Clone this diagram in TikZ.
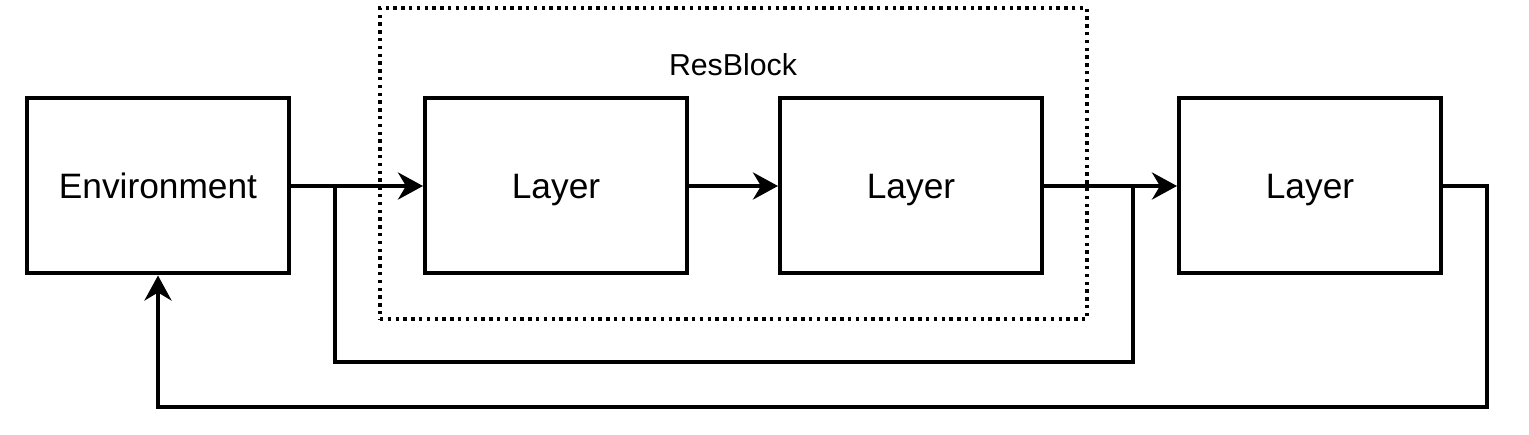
\documentclass[tikz,border=0pt]{standalone}
\usepackage{fontspec}
\setmainfont{Liberation Sans}
\usetikzlibrary{arrows.meta}
\begin{document}
\begin{tikzpicture}[x=1pt,y=-1pt,
  blockbox/.style={draw=black,line width=4pt,minimum width=262pt,minimum height=175pt,
    inner sep=0pt,font=\fontsize{35.3}{40}\selectfont,text depth=0pt},
  wire/.style={line width=4pt,draw=black},
  arr/.style={wire,-{Stealth[length=25pt,width=27pt,inset=8pt]}},
  dotbox/.style={draw=black,line width=3.4pt,dash pattern=on 3.4pt off 4.4pt}]
\useasboundingbox (0,0) rectangle (1529,435);
\node[dotbox,minimum width=707pt,minimum height=311pt,inner sep=0pt] (res) at (733.5,163.5) {};
\node[font=\fontsize{30.3}{35}\selectfont,text depth=0pt,inner sep=0pt] (reslabel) at (733,65) {ResBlock};
\node[blockbox] (env) at (158,186) {Environment};
\node[blockbox] (l1) at (556,186) {Layer};
\node[blockbox] (l2) at (911,186) {Layer};
\node[blockbox] (l3) at (1310,186) {Layer};
\coordinate (sa) at (335,186);
\coordinate (sb) at (1133,186);
\coordinate (fb) at (1487,407);
\draw[arr] (env.east) -- (l1.west);
\draw[arr] (l1.east) -- (l2.west);
\draw[arr] (l2.east) -- (l3.west);
\draw[wire] (sa) -- ++(0,176) -| (sb);
\draw[arr] (l3.east) -| (fb) -| (env.south);
\end{tikzpicture}
\end{document}
